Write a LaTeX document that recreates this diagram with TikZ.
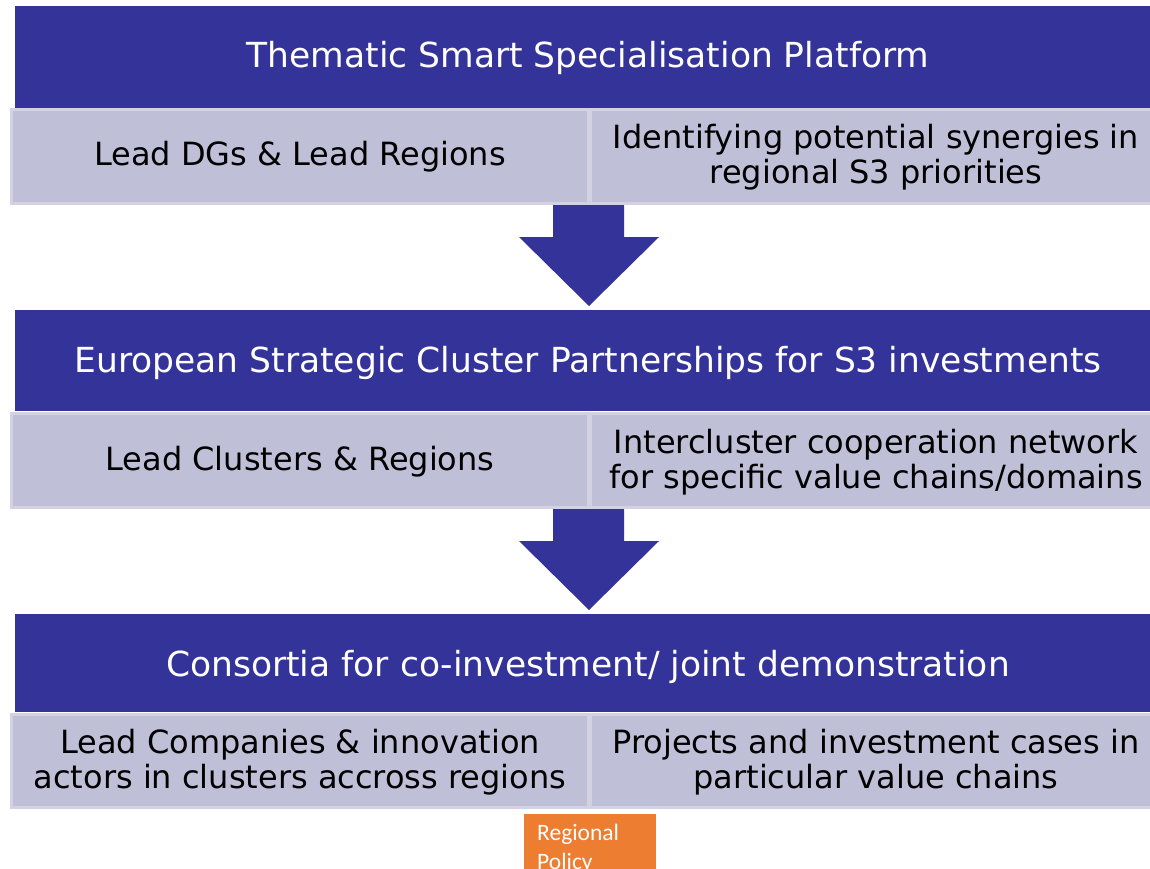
\documentclass[tikz,border=0pt]{standalone}
\usepackage{fontspec}
\setmainfont{DejaVu Sans}
\newfontfamily\calibri{Carlito}
\definecolor{hblue}{RGB}{51,51,153}
\definecolor{cellgray}{RGB}{191,191,216}
\definecolor{cellline}{RGB}{210,210,226}
\definecolor{orng}{RGB}{237,125,49}
\begin{document}
\begin{tikzpicture}[x=1pt,y=-1pt,
  headtext/.style={text=white,inner sep=0pt,anchor=base,font=\fontsize{34.5}{40}\selectfont},
  cell/.style={fill=cellgray,draw=cellline,line width=3pt},
  celltext/.style={text=black,align=center,font=\fontsize{32}{35}\selectfont,inner sep=0pt},
  bigarrow/.style={fill=hblue,draw=none}]
\useasboundingbox (0,0) rectangle (1150,869);
\fill[white] (0,0) rectangle (1150,869);
% row 1
\fill[hblue] (15,6) rectangle (1150,108);
\node[headtext] (h1) at (588,68) {Thematic Smart Specialisation Platform};
\draw[cell] (11.5,109.5) rectangle (588,203.5);
\draw[cell] (590,109.5) rectangle (1151,203.5);
\node[celltext] (c1l) at (300,157) {Lead DGs \& Lead Regions};
\node[celltext] (c1r) at (876,157) {Identifying potential synergies in\\regional S3 priorities};
% arrow 1
\fill[bigarrow] (553,205) -- (624,205) -- (624,237) -- (659,237) -- (589,306) -- (519,237) -- (553,237) -- cycle;
% row 2
\fill[hblue] (15,310) rectangle (1150,411);
\node[headtext] (h2) at (588,372) {European Strategic Cluster Partnerships for S3 investments};
\draw[cell] (11.5,413.5) rectangle (588,507.5);
\draw[cell] (590,413.5) rectangle (1151,507.5);
\node[celltext] (c2l) at (300,462) {Lead Clusters \& Regions};
\node[celltext] (c2r) at (876,462) {Intercluster cooperation network\\for specific value chains/domains};
% arrow 2
\fill[bigarrow] (553,509) -- (624,509) -- (624,541) -- (659,541) -- (589,610) -- (519,541) -- (553,541) -- cycle;
% row 3
\fill[hblue] (15,614) rectangle (1150,712);
\node[headtext] (h3) at (588,676) {Consortia for co-investment/ joint demonstration};
\draw[cell] (11.5,714.5) rectangle (588,807);
\draw[cell] (590,714.5) rectangle (1151,807);
\node[celltext] (c3l) at (300,762) {Lead Companies \& innovation\\actors in clusters accross regions};
\node[celltext] (c3r) at (876,762) {Projects and investment cases in\\particular value chains};
% orange label
\begin{scope}
\clip (524,814) rectangle (656,869);
\fill[orng] (524,814) rectangle (656,869);
\node[anchor=north west,text=white,align=left,inner sep=0pt,font=\calibri\fontsize{23.5}{29}\selectfont] (rp) at (537,824) {Regional\\Policy};
\end{scope}
\end{tikzpicture}
\end{document}
